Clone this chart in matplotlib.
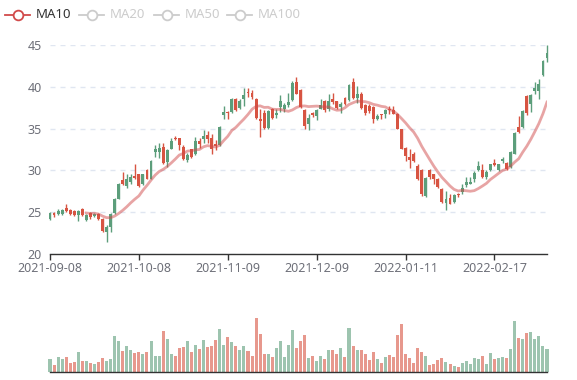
import numpy as np
import pandas as pd
import matplotlib
matplotlib.use('Agg')
import matplotlib.pyplot as plt
from matplotlib.lines import Line2D

plt.rcParams['font.family'] = ['Noto Sans', 'DejaVu Sans']

# Trading days (weekdays minus market holidays)
holidays = ['2022-01-03', '2022-01-31', '2022-02-01', '2022-02-02', '2022-02-03', '2022-02-04']
dates = [d.strftime('%Y-%m-%d') for d in pd.bdate_range('2021-09-08', '2022-03-08')
         if d.strftime('%Y-%m-%d') not in holidays]

opens = [24.2, 24.9, 24.8, 24.8, 25.5, 25.2, 25.1, 24.6, 25.4, 24.0,
         24.9, 24.5, 24.8, 24.2, 22.6, 23.2, 24.9, 26.6, 28.8, 28.1,
         28.6, 29.3, 29.5, 28.3, 30.0, 28.9, 32.2, 32.2, 32.8, 31.0,
         32.6, 33.9, 33.9, 32.8, 31.2, 32.5, 31.9, 33.5, 33.7, 34.2,
         33.9, 33.1, 33.0, 36.6, 37.0, 37.0, 38.6, 37.5, 38.6, 39.4,
         39.3, 38.6, 36.1, 36.9, 35.1, 37.4, 36.6, 37.6, 37.4, 37.8,
         38.4, 40.6, 39.6, 37.2, 35.6, 36.9, 36.5, 37.4, 38.3, 37.3,
         38.5, 38.3, 37.6, 38.7, 38.4, 40.6, 38.7, 39.2, 37.8, 37.7,
         37.6, 36.2, 36.8, 36.8, 37.3, 37.2, 36.8, 34.9, 32.7, 31.6,
         31.9, 30.5, 30.0, 26.9, 30.0, 29.5, 29.0, 27.8, 26.1, 26.7,
         26.2, 27.2, 27.4, 28.2, 28.4, 29.0, 30.0, 30.0, 29.2, 30.0,
         30.9, 30.0, 31.1, 30.9, 30.4, 32.0, 35.2, 35.2, 38.9, 37.9,
         39.5, 39.5, 41.4, 43.5]
closes = [24.9, 24.6, 25.1, 25.2, 25.1, 24.8, 24.7, 25.1, 24.6, 24.7,
          24.4, 24.8, 24.2, 22.7, 23.2, 24.8, 26.6, 28.3, 28.3, 29.0,
          29.2, 29.1, 28.1, 29.5, 29.0, 31.1, 32.5, 32.7, 30.9, 32.4,
          33.5, 33.7, 33.0, 31.4, 31.8, 31.6, 33.5, 33.2, 34.1, 33.8,
          32.6, 32.9, 35.2, 37.0, 36.9, 38.6, 37.2, 38.3, 39.0, 39.3,
          38.8, 36.3, 35.9, 35.1, 37.1, 36.3, 36.9, 38.3, 37.8, 38.2,
          40.5, 39.2, 37.6, 35.3, 36.3, 36.6, 37.2, 37.8, 37.2, 38.3,
          38.2, 37.5, 38.0, 37.9, 40.2, 38.7, 39.1, 37.5, 36.9, 37.1,
          36.2, 36.5, 36.6, 37.2, 37.2, 36.8, 35.0, 32.6, 31.7, 31.2,
          31.1, 28.9, 27.1, 29.1, 29.2, 29.0, 28.0, 26.2, 26.6, 26.0,
          27.0, 27.0, 27.9, 28.6, 28.6, 29.7, 30.5, 29.2, 29.8, 30.7,
          30.6, 30.7, 31.4, 30.2, 32.2, 34.5, 34.6, 37.1, 36.9, 39.0,
          39.9, 40.4, 43.1, 44.1]
highs = [25.0, 24.95, 25.4, 25.4, 25.9, 25.3, 25.2, 25.2, 25.5, 24.8,
         25.0, 24.9, 24.9, 24.3, 23.4, 24.9, 26.7, 28.5, 29.8, 29.6,
         29.5, 30.7, 29.5, 29.6, 30.1, 31.2, 33.0, 33.3, 33.3, 32.6,
         33.9, 34.1, 33.9, 33.0, 32.1, 32.6, 34.0, 33.9, 34.8, 34.7,
         34.3, 33.6, 35.3, 37.7, 37.1, 38.7, 38.7, 38.5, 39.9, 39.9,
         39.6, 38.7, 37.3, 37.2, 37.2, 37.5, 37.4, 39.0, 38.1, 39.3,
         40.7, 41.2, 39.7, 37.3, 36.8, 37.0, 37.3, 38.5, 38.4, 39.1,
         39.3, 38.3, 38.2, 38.8, 40.4, 41.1, 40.1, 39.4, 37.9, 37.9,
         37.7, 36.8, 36.8, 37.3, 37.7, 37.7, 36.9, 35.0, 32.8, 32.6,
         32.2, 30.7, 30.1, 29.2, 30.2, 29.6, 29.1, 27.9, 27.5, 27.2,
         27.1, 27.3, 28.3, 29.2, 29.2, 29.9, 31.1, 30.8, 30.0, 30.8,
         31.4, 30.8, 31.6, 31.0, 32.3, 34.6, 36.5, 37.2, 39.0, 39.1,
         40.6, 41.0, 43.2, 45.0]
lows = [24.1, 24.4, 24.6, 24.7, 25.0, 24.6, 24.5, 23.9, 24.5, 23.9,
        24.2, 24.4, 24.1, 22.6, 21.4, 22.6, 24.8, 26.5, 28.2, 27.9,
        28.3, 29.0, 28.0, 28.2, 28.9, 28.9, 31.6, 31.5, 30.8, 30.4,
        32.5, 33.6, 32.4, 31.2, 31.0, 31.5, 31.8, 32.7, 33.3, 33.3,
        31.9, 32.4, 32.9, 36.2, 36.1, 36.9, 37.1, 37.3, 37.7, 38.8,
        38.5, 36.2, 34.0, 35.0, 34.9, 36.2, 36.3, 37.0, 37.0, 37.6,
        38.3, 39.1, 37.5, 35.0, 34.8, 36.4, 36.0, 37.3, 37.0, 37.1,
        37.9, 37.3, 36.9, 37.8, 38.3, 38.6, 38.1, 37.4, 36.6, 36.9,
        35.7, 36.0, 36.2, 36.3, 36.8, 36.7, 34.9, 32.5, 31.1, 30.3,
        31.0, 28.8, 26.9, 26.8, 29.0, 28.4, 27.9, 26.1, 25.2, 25.9,
        26.1, 26.8, 27.1, 28.0, 28.3, 28.6, 29.9, 29.1, 29.0, 29.9,
        30.5, 29.9, 30.9, 30.0, 30.3, 31.9, 34.5, 35.1, 36.6, 37.0,
        39.1, 38.5, 41.3, 43.0]
volumes = [40, 21, 45, 39, 46, 28, 30, 62, 33, 33,
           28, 26, 30, 43, 34, 40, 108, 93, 65, 78,
           67, 58, 60, 55, 62, 95, 48, 49, 124, 99,
           55, 49, 73, 77, 95, 60, 83, 70, 96, 76,
           78, 96, 130, 81, 106, 90, 79, 67, 78, 64,
           50, 162, 115, 55, 55, 46, 72, 93, 47, 81,
           126, 74, 95, 111, 43, 48, 34, 50, 40, 67,
           68, 55, 73, 47, 133, 79, 66, 68, 55, 38,
           61, 39, 27, 46, 52, 47, 113, 145, 55, 44,
           29, 72, 61, 49, 22, 25, 37, 42, 32, 25,
           20, 15, 27, 33, 26, 43, 41, 49, 25, 57,
           39, 42, 46, 44, 70, 154, 102, 100, 118, 121,
           100, 109, 79, 70]

o = np.array(opens)
c = np.array(closes)
ma10 = pd.Series(closes).rolling(10).mean()

green = '#5c9e7b'
red = '#d75442'
colors = np.where(c >= o, green, red)
x = np.arange(len(dates))

W, H = 577, 380
def box(l, t, r, b):
    return [l / W, 1 - b / H, (r - l) / W, (b - t) / H]

fig = plt.figure(figsize=(W / 100, H / 100), dpi=100)
ax = fig.add_axes(box(50, 45.2, 547, 253.7))
axv = fig.add_axes(box(50, 300, 547, 372.3))

# candles
ax.vlines(x, lows, highs, colors=colors, lw=1, clip_on=False, zorder=3)
ax.bar(x, np.maximum(np.abs(c - o), 0.07), bottom=np.minimum(o, c), width=0.72,
       color=colors, lw=0, clip_on=False, zorder=3)
ax.plot(x, ma10, color='#d14a4a', alpha=0.5, lw=2, zorder=4)

ax.set_xlim(0, len(dates) - 1)
ax.set_ylim(20, 45)
ax.set_yticks(range(20, 46, 5))
ax.yaxis.grid(True, color='#E0E6F1', lw=1, ls=(0, (3.6, 3.6)))
ax.set_axisbelow(True)
tick_idx = [0, 22, 44, 66, 88, 110]
ax.set_xticks(tick_idx)
ax.set_xticklabels([dates[i] for i in tick_idx])
ax.tick_params(axis='x', length=4, width=1, color='#333333', pad=2,
               labelsize=9, labelcolor='#6E7079')
ax.tick_params(axis='y', length=0, pad=6, labelsize=9, labelcolor='#6E7079')
for s in ['top', 'right', 'left']:
    ax.spines[s].set_visible(False)
ax.spines['bottom'].set_color('#333333')
ax.spines['bottom'].set_linewidth(1)

# volume
axv.bar(x, volumes, width=0.75, color=colors, alpha=0.6, lw=0, clip_on=False)
axv.set_xlim(0, len(dates) - 1)
axv.set_ylim(0, 217)
axv.set_xticks([])
axv.set_yticks([])
for s in ['top', 'right', 'left']:
    axv.spines[s].set_visible(False)
axv.spines['bottom'].set_color('#333333')
axv.spines['bottom'].set_linewidth(1)

# legend
legend_items = [('MA10', '#d14a4a', '#333333', 36),
                ('MA20', '#cccccc', '#cccccc', 110),
                ('MA50', '#cccccc', '#cccccc', 185),
                ('MA100', '#cccccc', '#cccccc', 258)]
ly = 1 - 15 / H
for name, icol, tcol, tx in legend_items:
    x0, x1 = (tx - 31) / W, (tx - 6) / W
    fig.add_artist(Line2D([x0, x1], [ly, ly], color=icol, lw=1.3))
    fig.add_artist(Line2D([(x0 + x1) / 2], [ly], marker='o', ms=7, mfc='white',
                          mec=icol, mew=1.3, color=icol))
    fig.text(tx / W, ly, name, color=tcol, fontsize=9.5, va='center', ha='left')

fig.savefig('out.png', dpi=100)
